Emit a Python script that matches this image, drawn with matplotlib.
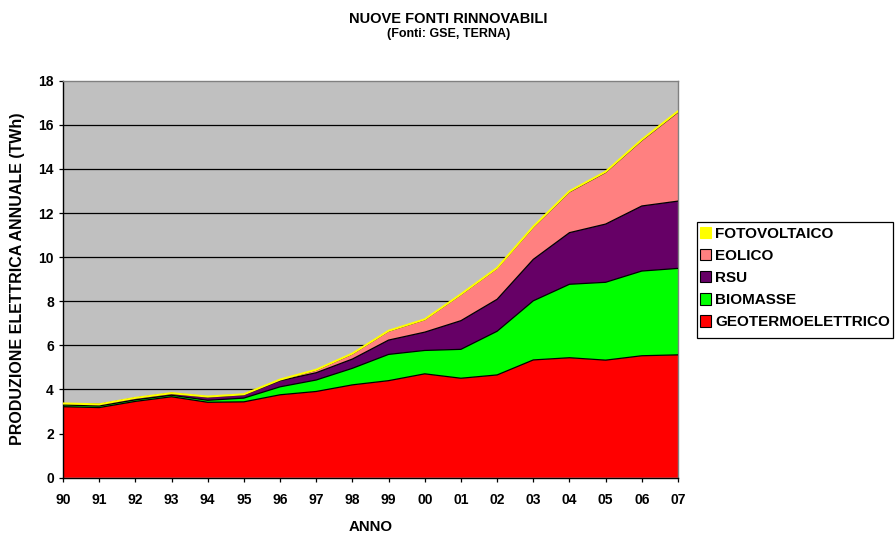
import numpy as np
import matplotlib
matplotlib.use('Agg')
import matplotlib.pyplot as plt
from matplotlib.patches import Patch, Rectangle

plt.rcParams['font.family'] = ['Liberation Sans', 'DejaVu Sans']
plt.rcParams['font.weight'] = 'bold'

# dati (TWh)
anni = ['90', '91', '92', '93', '94', '95', '96', '97', '98', '99',
        '00', '01', '02', '03', '04', '05', '06', '07']
geotermo = [3.22, 3.18, 3.46, 3.67, 3.42, 3.44, 3.76, 3.91, 4.21, 4.40,
            4.71, 4.51, 4.66, 5.34, 5.44, 5.33, 5.53, 5.57]
biomasse = [0.08, 0.07, 0.07, 0.07, 0.09, 0.17, 0.36, 0.52, 0.75, 1.19,
            1.06, 1.31, 1.98, 2.68, 3.33, 3.53, 3.84, 3.92]
rsu = [0.06, 0.07, 0.08, 0.08, 0.15, 0.15, 0.28, 0.33, 0.42, 0.65,
       0.83, 1.30, 1.45, 1.88, 2.34, 2.64, 2.95, 3.05]
eolico = [0.002, 0.002, 0.002, 0.004, 0.007, 0.01, 0.033, 0.118, 0.232, 0.403,
          0.563, 1.179, 1.404, 1.458, 1.847, 2.343, 2.971, 4.034]
fotovoltaico = [0.004, 0.005, 0.008, 0.009, 0.012, 0.013, 0.016, 0.017, 0.018, 0.018,
                0.018, 0.019, 0.018, 0.026, 0.031, 0.031, 0.035, 0.039]

serie = [geotermo, biomasse, rsu, eolico, fotovoltaico]
nomi = ['GEOTERMOELETTRICO', 'BIOMASSE', 'RSU', 'EOLICO', 'FOTOVOLTAICO']
colori = ['#FF0000', '#00FF00', '#660066', '#FF8080', '#FFFF00']

x = np.arange(len(anni))

fig = plt.figure(figsize=(8.96, 5.34), dpi=100)
ax = fig.add_axes([0.0703, 0.1054, 0.6864, 0.7435])
ax.set_facecolor('#C0C0C0')

# griglia
for v in range(2, 18, 2):
    ax.axhline(v, color='black', lw=0.9, zorder=1)

ax.stackplot(x, *serie, colors=colori, lw=0, zorder=2)
cum = np.cumsum(np.array(serie), axis=0)
for i in range(4):
    ax.plot(x, cum[i], color='black', lw=0.9, zorder=3)
ax.plot(x, cum[4], color='#FFFF00', lw=1.5, zorder=4)

ax.set_xlim(0, len(anni) - 1)
ax.set_ylim(0, 18)
ax.set_xticks(x)
ax.set_xticklabels(anni)
ax.set_yticks(range(0, 19, 2))
ax.tick_params(axis='both', direction='out', length=3, width=0.9, labelsize=10)
ax.tick_params(axis='x', pad=8)
ax.tick_params(axis='y', pad=3.5)
for lab in ax.get_xticklabels() + ax.get_yticklabels():
    lab.set_fontweight('bold')

for s in ['top', 'right']:
    ax.spines[s].set_color('#808080')
    ax.spines[s].set_linewidth(1)
for s in ['left', 'bottom']:
    ax.spines[s].set_color('black')
    ax.spines[s].set_linewidth(1)

# titoli ed etichette
fig.text(0.5006, 0.964, 'NUOVE FONTI RINNOVABILI', ha='center', va='center',
         fontsize=10.5, fontweight='bold')
fig.text(0.5006, 0.936, '(Fonti: GSE, TERNA)', ha='center', va='center',
         fontsize=9, fontweight='bold')
fig.text(0.0195, 0.4775, 'PRODUZIONE ELETTRICA ANNUALE (TWh)', rotation=90,
         ha='center', va='center', fontsize=11.5, fontweight='bold')
fig.text(0.4135, 0.013, 'ANNO', ha='center', va='center',
         fontsize=10.8, fontweight='bold')

# legenda: cornice disegnata a parte
fig.patches.append(Rectangle((697 / 896, 1 - 338 / 534), 196 / 896, 116 / 534,
                             transform=fig.transFigure, facecolor='white',
                             edgecolor='black', lw=0.9, zorder=1))
bordi = ['black', 'black', 'black', 'black', '#FFFF00']
handles = [Patch(facecolor=colori[i], edgecolor=bordi[i], lw=0.8, label=nomi[i])
           for i in range(4, -1, -1)]
leg = fig.legend(handles=handles, loc='upper left',
                 bbox_to_anchor=(700 / 896, 1 - 227 / 534),
                 frameon=False, handlelength=0.75, handleheight=0.75,
                 handletextpad=0.25, labelspacing=0.53, borderpad=0,
                 borderaxespad=0, prop={'size': 11, 'weight': 'bold'})

fig.savefig('out.png', dpi=100)
